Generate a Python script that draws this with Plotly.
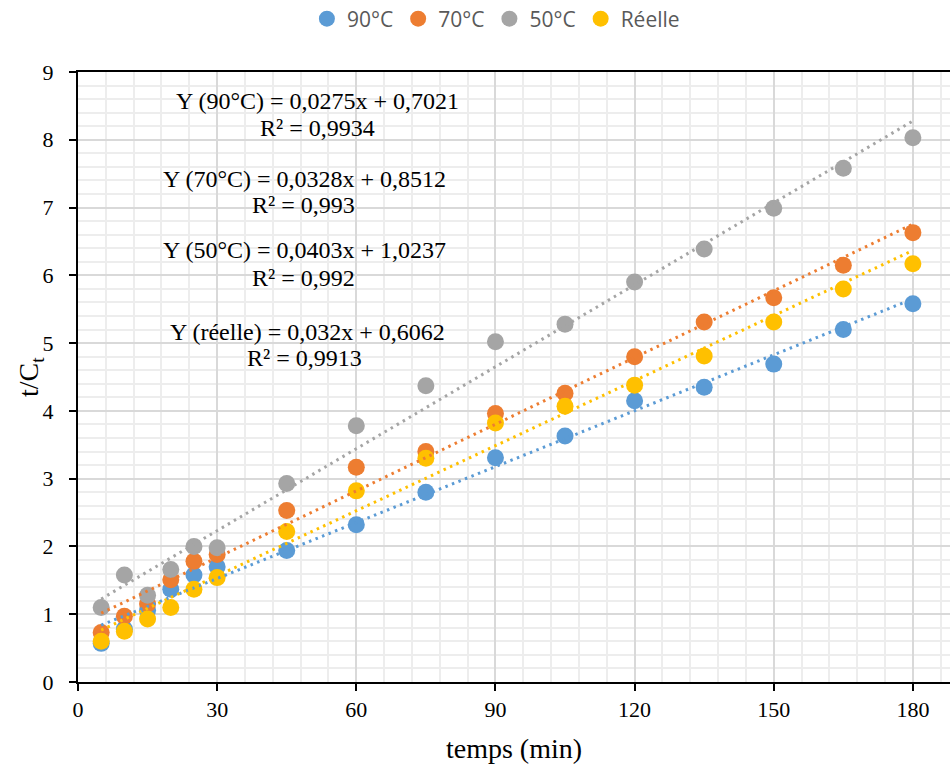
import plotly.graph_objects as go

# Time points (min)
temps = [5, 10, 15, 20, 25, 30, 45, 60, 75, 90, 105, 120, 135, 150, 165, 180]

# t/Ct for each condition
y_90 = [0.57, 0.78, 1.06, 1.37, 1.58, 1.70, 1.94, 2.32, 2.80, 3.31, 3.63, 4.15, 4.35, 4.69, 5.20, 5.58]
y_70 = [0.73, 0.97, 1.15, 1.51, 1.78, 1.88, 2.53, 3.17, 3.40, 3.96, 4.26, 4.80, 5.31, 5.67, 6.15, 6.63]
y_50 = [1.10, 1.58, 1.28, 1.66, 2.00, 1.98, 2.93, 3.78, 4.37, 5.02, 5.28, 5.90, 6.39, 6.99, 7.58, 8.03]
y_reelle = [0.60, 0.75, 0.93, 1.10, 1.37, 1.54, 2.22, 2.82, 3.30, 3.82, 4.07, 4.38, 4.81, 5.31, 5.80, 6.17]

series_names = ["90°C", "70°C", "50°C", "Réelle"]
eq_tags = ["90°C", "70°C", "50°C", "réelle"]
series_values = [y_90, y_70, y_50, y_reelle]
colors = ["#5B9BD5", "#ED7D31", "#A5A5A5", "#FFC000"]

# Linear trend lines: Y = a*x + b
slopes = [0.0275, 0.0328, 0.0403, 0.032]
intercepts = [0.7021, 0.8512, 1.0237, 0.6062]
r_squared = [0.9934, 0.993, 0.992, 0.9913]

x_ticks = [0, 30, 60, 90, 120, 150, 180]
y_ticks = [0, 1, 2, 3, 4, 5, 6, 7, 8, 9]

# Equation label placement (data coordinates)
eq_x = [51.7, 48.9, 48.9, 49.4]
eq_y = [8.574, 7.419, 6.372, 5.162]
r2_x = [51.6, 48.7, 48.7, 48.9]
r2_y = [8.175, 7.035, 5.963, 4.779]

SERIF = "Liberation Serif, Times New Roman, serif"


def fr(v):
    return str(v).replace(".", ",")


fig = go.Figure()

for name, vals, col in zip(series_names, series_values, colors):
    fig.add_trace(go.Scatter(
        x=temps, y=vals, mode="markers", name=name,
        marker=dict(color=col, size=17, line=dict(width=0)),
    ))

x_fit = [min(temps), max(temps)]
for a, b, col in zip(slopes, intercepts, colors):
    fig.add_trace(go.Scatter(
        x=x_fit, y=[a * xv + b for xv in x_fit], mode="lines",
        line=dict(color=col, width=3, dash="2.5px,4.5px"),
        showlegend=False, hoverinfo="skip",
    ))

for tag, a, b, r2, ex, ey, rx, ry in zip(eq_tags, slopes, intercepts, r_squared,
                                          eq_x, eq_y, r2_x, r2_y):
    fig.add_annotation(x=ex, y=ey, text=f"Y ({tag}) = {fr(a)}x + {fr(b)}",
                       showarrow=False, xanchor="center", yanchor="middle",
                       font=dict(family=SERIF, size=24, color="#000000"))
    fig.add_annotation(x=rx, y=ry, text=f"R² = {fr(r2)}",
                       showarrow=False, xanchor="center", yanchor="middle",
                       font=dict(family=SERIF, size=24, color="#000000"))

# Vertical axis title, placed beside the tick labels
fig.add_annotation(xref="paper", yref="paper", x=0, y=0.5, xshift=-48,
                   text="t/C<sub>t</sub>", textangle=-90, showarrow=False,
                   xanchor="center", yanchor="middle",
                   font=dict(family=SERIF, size=28, color="#000000"))

fig.update_layout(
    width=950, height=769,
    margin=dict(l=78, r=0, t=72, b=87),
    plot_bgcolor="white", paper_bgcolor="white",
    showlegend=True,
    legend=dict(
        orientation="h", xref="container", yref="container",
        x=0.522, y=1 - 19 / 769, xanchor="center", yanchor="middle",
        font=dict(family="Open Sans, sans-serif", size=21, color="#595959"),
    ),
    xaxis=dict(
        range=[0, 188], tickvals=x_ticks, ticktext=[str(t) for t in x_ticks],
        showgrid=True, gridcolor="#D9D9D9", gridwidth=1.5,
        minor=dict(dtick=6, tick0=0, showgrid=True, gridcolor="#EDEDED", gridwidth=1.5),
        showline=True, linecolor="#000000", linewidth=2, mirror=True,
        ticks="outside", ticklen=7, tickwidth=1.5, tickcolor="#000000",
        tickfont=dict(family=SERIF, size=22, color="#000000"),
        title=dict(text="temps (min)", font=dict(family=SERIF, size=28, color="#000000"), standoff=17),
        zeroline=False,
    ),
    yaxis=dict(
        range=[0, 9], tickvals=y_ticks, ticktext=[str(t) for t in y_ticks],
        showgrid=True, gridcolor="#D9D9D9", gridwidth=1.5,
        minor=dict(dtick=0.2, tick0=0, showgrid=True, gridcolor="#EDEDED", gridwidth=1.5),
        showline=True, linecolor="#000000", linewidth=2,
        ticks="outside", ticklen=7, tickwidth=1.5, tickcolor="#000000",
        ticklabelstandoff=11,
        tickfont=dict(family=SERIF, size=22, color="#000000"),
        zeroline=False,
    ),
)

fig.write_html("out.html")
